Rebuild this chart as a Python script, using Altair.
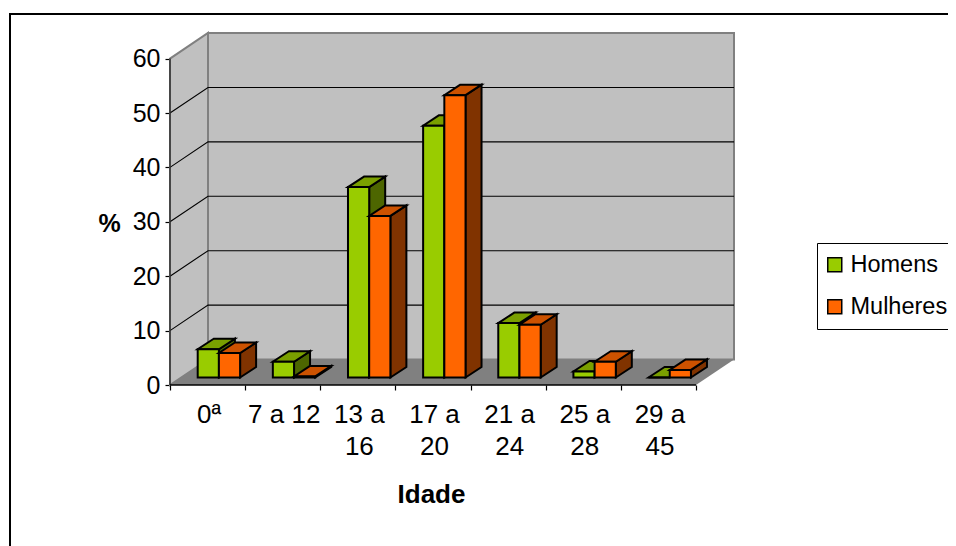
import altair as alt
import pandas as pd

categories = ["0ª", "7 a 12", "13 a 16", "17 a 20", "21 a 24", "25 a 28", "29 a 45"]
category_lines = [["0ª"], ["7 a 12"], ["13 a", "16"], ["17 a", "20"], ["21 a", "24"], ["25 a", "28"], ["29 a", "45"]]
homens = [5.2, 2.9, 35, 46.3, 10, 1.1, 0]
mulheres = [4.5, 0.2, 29.7, 51.9, 9.7, 2.9, 1.4]
y_ticks = [0, 10, 20, 30, 40, 50, 60]
series = ["Homens", "Mulheres"]
front_colors = ["#99CC00", "#FF6600"]
top_colors = ["#7A9F00", "#CC5200"]
side_colors = ["#4D6600", "#803300"]

W, H = 564, 352
N = len(categories)
WALL_DX, WALL_DY = 38 / 75.14, 25.5 / 5.44     # depth of the floor, in data units
BASE_DX, BASE_DY = 11 / 75.14, 7.5 / 5.44      # gap of the bars from the front edge
BAR_DX, BAR_DY = 16 / 75.14, 10.5 / 5.44       # depth of the bars
BAR_START = 16.7 / 75.14 + BASE_DX
BAR_W = 21.2 / 75.14
XMAX = N + WALL_DX
YMAX = H / 5.44
LW = 2

xs = alt.Scale(domain=[0, XMAX], nice=False, zero=False)
ys = alt.Scale(domain=[0, YMAX], nice=False, zero=False)

x_axis = alt.Axis(
    values=list(range(N + 1)), labels=False, grid=False, domain=False,
    tickColor="black", tickSize=5, tickWidth=1.2,
    titleX=261, titleY=109, titleFontSize=26, titleFontWeight="bold",
    titleFont="Liberation Sans", titleColor="black", titleBaseline="middle", titleAlign="center")
y_axis = alt.Axis(
    values=y_ticks, grid=False, domain=False, tickColor="black", tickSize=5, tickWidth=1.2,
    labelFontSize=25, labelFont="Liberation Sans", labelColor="black", labelPadding=5,
    titleX=-61, titleY=190, titleAngle=0, titleFontSize=25, titleFontWeight="bold",
    titleFont="Liberation Sans", titleColor="black", titleBaseline="middle", titleAlign="center")


def X(f="x"):
    return alt.X(f, type="quantitative", scale=xs, axis=x_axis, title="Idade")


def Y(f="y"):
    return alt.Y(f, type="quantitative", scale=ys, axis=y_axis, title="%")


# walls
back = alt.Chart(pd.DataFrame({"x": [WALL_DX], "x2": [XMAX], "y": [WALL_DY], "y2": [YMAX]})).mark_rect(
    fill="#C0C0C0", stroke="#808080", strokeWidth=2
).encode(x=X(), x2="x2:Q", y=Y(), y2="y2:Q")

side_wall = alt.Chart(pd.DataFrame({"x": [0, WALL_DX], "y": [0, WALL_DY], "y2": [60, YMAX]})).mark_area(
    fill="#C0C0C0", stroke="#808080", strokeWidth=2
).encode(x=X(), y=Y(), y2="y2:Q")

floor = alt.Chart(pd.DataFrame({"y": [0, WALL_DY], "x": [0, WALL_DX], "x2": [N, XMAX]})).mark_area(
    orient="horizontal", fill="#808080"
).encode(y=Y(), x=X(), x2="x2:Q")

grid_rows = []
for v in y_ticks[1:]:
    grid_rows += [{"x": 0, "y": v, "g": v}, {"x": WALL_DX, "y": v + WALL_DY, "g": v}, {"x": XMAX, "y": v + WALL_DY, "g": v}]
grid = alt.Chart(pd.DataFrame(grid_rows[:-3])).mark_line(color="black", strokeWidth=1.1).encode(
    x=X(), y=Y(), detail="g:N"
)

y_line = alt.Chart(pd.DataFrame({"x": [0], "y": [0], "y2": [60]})).mark_rule(color="#333333", strokeWidth=1.5).encode(
    x=X(), y=Y(), y2="y2:Q"
)
x_line = alt.Chart(pd.DataFrame({"x": [0], "x2": [N], "y": [0]})).mark_rule(color="black", strokeWidth=1.5).encode(
    x=X(), x2="x2:Q", y=Y()
)


def bar_layers(values, k):
    x0 = [i + BAR_START + k * BAR_W for i in range(N)]
    x1 = [x + BAR_W for x in x0]
    side_rows, top_rows = [], []
    for i, v in enumerate(values):
        side_rows += [
            {"b": i, "x": x1[i], "y": BASE_DY, "y2": BASE_DY + v},
            {"b": i, "x": x1[i] + BAR_DX, "y": BASE_DY + BAR_DY, "y2": BASE_DY + BAR_DY + v},
        ]
        top_rows += [
            {"b": i, "y": BASE_DY + v, "x": x0[i], "x2": x1[i]},
            {"b": i, "y": BASE_DY + v + BAR_DY, "x": x0[i] + BAR_DX, "x2": x1[i] + BAR_DX},
        ]
    side = alt.Chart(pd.DataFrame(side_rows)).mark_area(
        fill=side_colors[k], stroke="black", strokeWidth=LW
    ).encode(x=X(), y=Y(), y2="y2:Q", detail="b:N")
    top = alt.Chart(pd.DataFrame(top_rows)).mark_area(
        orient="horizontal", fill=top_colors[k], stroke="black", strokeWidth=LW
    ).encode(y=Y(), x=X(), x2="x2:Q", detail="b:N")
    front = alt.Chart(pd.DataFrame({
        "x": x0, "x2": x1, "y": [BASE_DY] * N, "y2": [BASE_DY + v for v in values], "serie": [series[k]] * N
    })).mark_rect(stroke="black", strokeWidth=LW).encode(
        x=X(), x2="x2:Q", y=Y(), y2="y2:Q",
        fill=alt.Fill("serie:N", scale=alt.Scale(domain=series, range=front_colors), legend=alt.Legend(
            title=None, orient="none", legendX=647, legendY=210,
            fillColor="white", strokeColor="black", padding=10,
            labelFont="Liberation Sans", labelFontSize=23.5, labelColor="black",
            symbolType="square", symbolSize=196, symbolStrokeColor="black", symbolStrokeWidth=1.5,
            symbolOffset=-4, rowPadding=17, labelOffset=4, labelLimit=200)),
    )
    return [side, top, front]


labels = alt.Chart(pd.DataFrame({"x": [i + 0.52 for i in range(N)], "t": category_lines})).mark_text(
    font="Liberation Sans", fontSize=26, color="black", baseline="alphabetic", align="center", lineHeight=32
).encode(x=X(), y=alt.value(H + 38), text="t")

# outer frame of the picture
frame_left = alt.Chart(pd.DataFrame({"a": [0]})).mark_rule(color="black", strokeWidth=2).encode(
    x=alt.value(-160), y=alt.value(-19), y2=alt.value(H + 161))
frame_top = alt.Chart(pd.DataFrame({"a": [0]})).mark_rule(color="black", strokeWidth=2).encode(
    x=alt.value(-161), x2=alt.value(W + 214), y=alt.value(-19))

chart = alt.layer(
    back, side_wall, floor, grid, y_line, x_line,
    *bar_layers(homens, 0), *bar_layers(mulheres, 1),
    labels, frame_left, frame_top,
).properties(
    width=W, height=H,
    padding={"left": 162, "top": 25, "right": 214, "bottom": 161},
    autosize=alt.AutoSizeParams(type="none"),
    background="white",
).configure_view(stroke=None)

chart.save("out.html", embed_options={"renderer": "svg", "actions": False})
